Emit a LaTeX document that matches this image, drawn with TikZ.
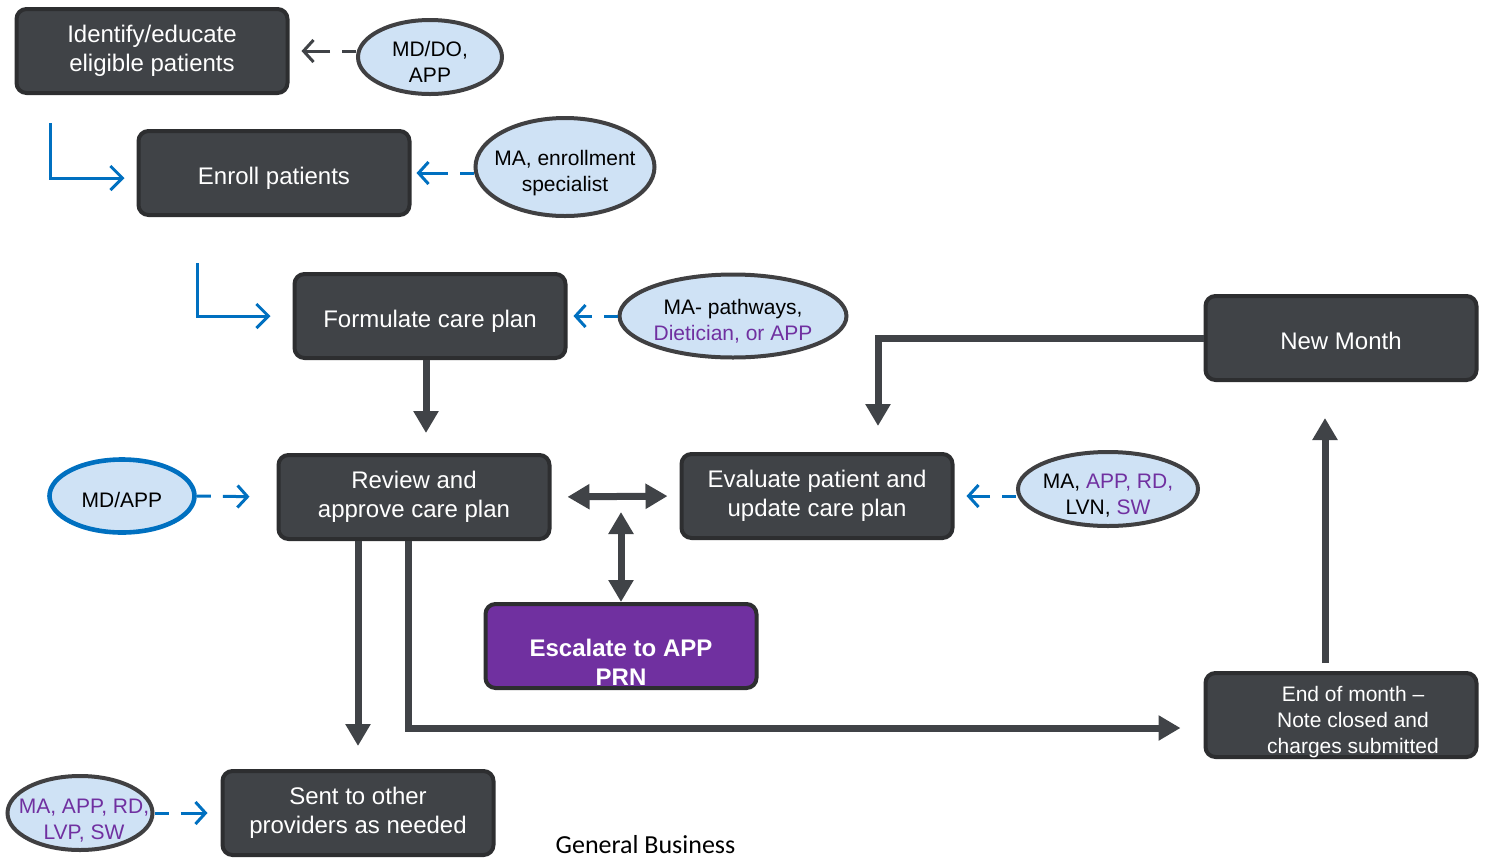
\documentclass[tikz,border=0pt]{standalone}
\usepackage{fontspec}
\setmainfont{Liberation Sans}
\newfontfamily\gbfont{Carlito}
\usetikzlibrary{arrows.meta,positioning,calc,shapes.geometric}

\definecolor{boxfill}{RGB}{64,67,71}
\definecolor{boxline}{RGB}{45,46,48}
\definecolor{rolefill}{RGB}{207,226,245}
\definecolor{roleline}{RGB}{64,64,66}
\definecolor{flowblue}{RGB}{0,112,192}
\definecolor{rolepurple}{RGB}{112,48,160}

\tikzset{
  stepbox/.style={rectangle, rounded corners=5pt, draw=boxline, line width=2pt, fill=boxfill,
    text=white, align=center, minimum width=135.5pt, minimum height=42pt,
    font=\fontsize{12}{14.5}\selectfont},
  onerow/.style={text height=13.5pt, text depth=2.5pt},
  role/.style={ellipse, draw=roleline, line width=2pt, fill=rolefill, inner sep=0pt},
  roletext/.style={align=center, font=\fontsize{10.5}{13}\selectfont},
  flow/.style={draw=boxfill, line width=3.5pt, -{Triangle[length=11pt,width=12pt]}},
  twoway/.style={draw=boxfill, line width=3.5pt, {Triangle[length=11pt,width=12pt]}-{Triangle[length=11pt,width=12pt]}},
  helper/.style={line width=1.5pt, dash pattern=on 7pt off 6pt on 40pt, -{Straight Barb[length=5pt,width=11pt]}},
  nextstep/.style={draw=flowblue, line width=1.5pt, -{Straight Barb[length=6pt,width=12pt]}},
}

\begin{document}
\begin{tikzpicture}[x=0.5pt, y=-0.5pt]
    \useasboundingbox (0,0) rectangle (1485,858);

    % steps
    \node[stepbox, yshift=0pt] (identify) at (152,51) {Identify/educate\\eligible patients};
    \node[stepbox, onerow] (enroll) at (274,173) {Enroll patients};
    \node[stepbox, onerow] (formulate) at (430,316) {Formulate care plan};
    \node[stepbox] (review) at (414,497) {Review and\\approve care plan};
    \node[stepbox] (evaluate) at (817,496) {Evaluate patient and\\update care plan};
    \node[stepbox, fill=rolepurple,
      label={[text=white, align=center, font=\fontsize{12}{14.5}\bfseries, yshift=-8pt]center:{Escalate to APP\\PRN}}]
      (escalate) at (621,646) {};
    \node[stepbox, onerow] (newmonth) at (1341,338) {New Month};
    \node[stepbox,
      label={[text=white, align=center, font=\fontsize{10.5}{13}\selectfont, xshift=6pt, yshift=-3.5pt]center:{End of month \textendash\\Note closed and\\charges submitted}}]
      (endmonth) at (1341,715) {};
    \node[stepbox] (sent) at (358,813) {Sent to other\\providers as needed};

    % who does it
    \node[role, minimum width=72pt, minimum height=37pt,
      label={[roletext, yshift=-2.5pt]center:{MD/DO,\\APP}}] (mddo) at (430,57) {};
    \node[role, minimum width=89.5pt, minimum height=49pt,
      label={[roletext, yshift=-3pt]center:{MA, enrollment\\specialist}}] (enrollma) at (565,167) {};
    \node[role, minimum width=113.5pt, minimum height=41.5pt,
      label={[roletext, yshift=-2.5pt]center:{MA- pathways,\\\textcolor{rolepurple}{Dietician, or APP}}}] (pathways) at (733,316) {};
    \node[role, draw=flowblue, line width=2.3pt, minimum width=72.5pt, minimum height=36.5pt,
      label={[roletext, yshift=-2pt]center:{MD/APP}}] (mdapp) at (122,496) {};
    \node[role, minimum width=90pt, minimum height=37pt,
      label={[roletext, yshift=-3.5pt]center:{MA, \textcolor{rolepurple}{APP, RD,}\\LVN, \textcolor{rolepurple}{SW}}}] (evalroles) at (1108,489) {};
    \node[role, minimum width=72.5pt, minimum height=37pt,
      label={[roletext, text=rolepurple, xshift=2pt, yshift=-4pt]center:{MA, APP, RD,\\LVP, SW}}] (sentroles) at (80,813) {};

    % dashed helpers
    \draw[helper, draw=boxfill, shorten >=6pt] (identify.east -| mddo.west) -- (identify.east);
    \draw[helper, draw=flowblue, shorten >=2.5pt] (enroll.east -| enrollma.west) -- (enroll.east);
    \draw[helper, draw=flowblue, shorten >=3pt] (formulate.east -| pathways.west) -- (formulate.east);
    \draw[helper, draw=flowblue, shorten >=13.5pt] (mdapp.east) -- (review.west);
    \draw[helper, draw=flowblue, shorten >=6pt] (evaluate.east -| evalroles.west) -- (evaluate.east);
    \draw[helper, draw=flowblue, shorten >=6.5pt] (sentroles.east) -- (sent.west);

    % next steps
    \coordinate (elbowa) at (50,123);
    \coordinate (elbowb) at (197,263);
    \draw[nextstep, shorten >=6pt] (elbowa) |- ([yshift=-2.5pt]enroll.west);
    \draw[nextstep, shorten >=11pt] (elbowb) |- (formulate.west);

    % main flow
    \draw[flow, shorten >=10pt] ([xshift=-2pt]formulate.south) -- ([xshift=-2pt]formulate.south |- review.north);
    \draw[twoway, shorten <=8pt, shorten >=6pt] (review.east) -- (evaluate.west);
    \draw[twoway, shorten >=7.5pt] (escalate.north) -- (escalate.north |- review.east);
    \draw[flow, shorten >=11.5pt] (review.south -| sent.north) -- (sent.north);
    \draw[flow, shorten >=11.5pt] ([xshift=-3pt]review.south) |- ([yshift=-6.5pt]endmonth.west);
    \draw[flow, shorten <=4pt, shorten >=18pt] ([xshift=-8pt]endmonth.north) -- ([xshift=-8pt]newmonth.south);
    \draw[flow, shorten >=13pt] (newmonth.west) -| ([xshift=30.5pt]evaluate.north);

    \node[font=\gbfont\fontsize{13}{15}\selectfont, anchor=base, inner sep=0pt] (footer) at (645.5,853) {General Business};
\end{tikzpicture}
\end{document}
